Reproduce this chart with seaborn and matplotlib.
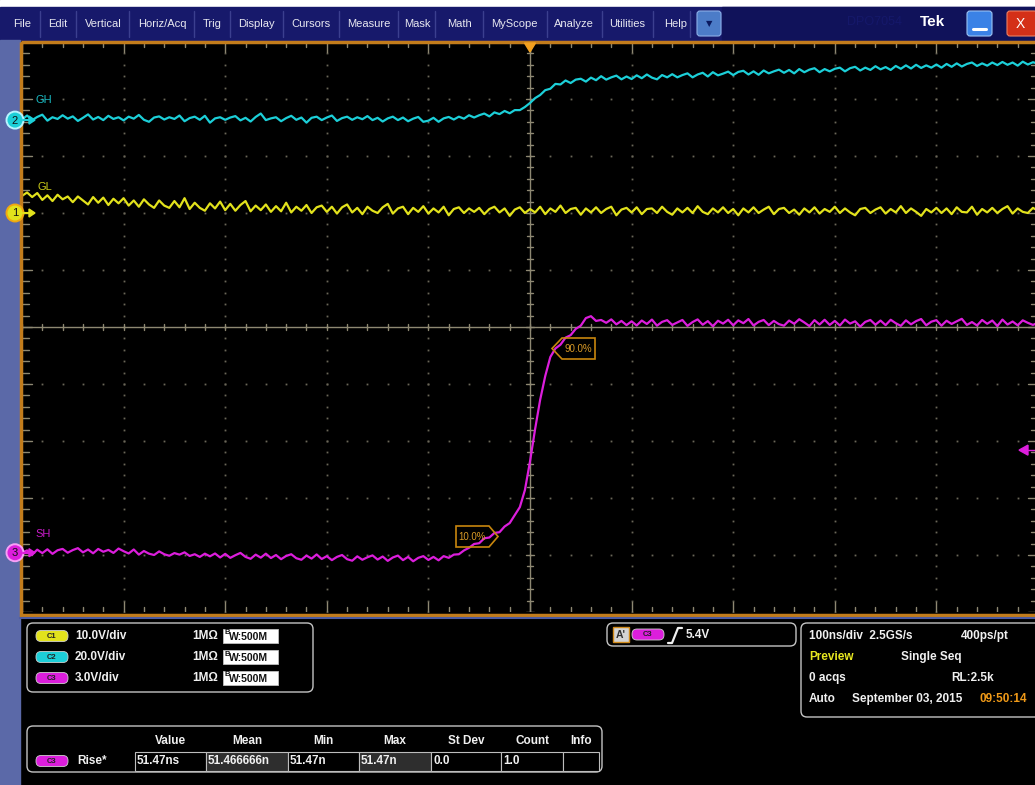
import numpy as np
import pandas as pd
import matplotlib
matplotlib.use("Agg")
import matplotlib.pyplot as plt
from matplotlib.patches import Rectangle, FancyBboxPatch, Circle, Polygon
import seaborn as sns

W, H = 1035, 785

# ---------------- data ----------------
time_ns = np.arange(-500, 501, 5)  # scope sample clock shown at 5 ns steps

gl_c1_volts = [
    3.0, 3.6, 2.8, 3.5, 2.3, 3.1, 2.1, 3.2, 2.4, 2.9,
    1.9, 2.9, 2.2, 1.5, 2.8, 1.8, 2.7, 1.4, 2.5, 1.7,
    2.6, 1.3, 2.2, 1.1, 2.4, 1.5, 0.9, 2.2, 1.3, 0.9,
    2.1, 1.0, 2.6, 0.7, 1.8, 0.9, 0.4, 1.7, 0.8, 2.0,
    0.5, 1.6, 0.4, 1.4, 2.1, 0.3, 1.3, 0.5, 1.5, 0.2,
    1.2, 0.3, 1.8, 0.1, 1.1, 0.4, 1.4, 0.0, 1.0, 1.3,
    0.2, 1.1, -0.1, 1.0, 1.5, 0.1, 0.9, -0.2, 1.1, 0.4,
    0.0, 1.0, 1.6, -0.1, 0.8, 1.1, -0.2, 0.9, 0.2, 1.2,
    -0.1, 0.8, 0.1, 1.1, -0.4, 0.7, 1.0, 0.0, 0.8, 0.2,
    0.9, -0.2, 0.7, 1.1, 0.1, 0.8, -0.5, 0.6, 1.0, 0.0,
    0.7, 0.1, 1.1, -0.2, 0.8, 0.2, 1.3, 0.0, 0.7, 0.9,
    -0.3, 0.8, 0.1, 1.0, 0.0, 0.7, 1.1, -0.4, 0.6, 0.9,
    0.1, 1.0, -0.2, 0.7, 0.8, 0.0, 1.1, 0.2, -0.3, 0.8,
    0.1, 0.9, 0.0, 1.2, 0.2, -0.2, 0.8, 0.1, 1.0, 0.0,
    0.7, -0.4, 0.8, 0.1, 1.0, 0.0, 0.6, 1.1, -0.2, 0.7,
    0.9, 0.0, 0.6, -0.3, 0.8, 0.1, 1.0, -0.1, 0.7, 0.2,
    1.1, 0.0, 0.8, 0.1, -0.4, 0.7, 0.9, 0.0, 0.6, 1.0,
    -0.1, 0.7, 0.1, 1.2, 0.0, 0.8, 0.2, -0.5, 0.7, 0.1,
    0.9, 0.0, 0.8, -0.2, 1.0, 0.2, 0.1, 1.1, -0.3, 0.7,
    0.1, 0.9, 0.0, 0.7, 1.2, -0.1, 0.8, 0.2, 0.0, 0.9,
    0.4,
]

gh_c2_volts = [
    0.2, 1.6, 0.0, 1.1, 1.9, -0.2, 1.0, 0.4, 1.7, 0.5,
    1.3, -0.3, 0.8, 2.0, 0.2, 1.1, 0.0, 1.5, 0.4, 1.0,
    -0.1, 1.2, 0.5, 1.8, 0.1, -0.6, 0.9, 1.3, 0.2, 1.0,
    0.4, 1.6, -0.4, 0.7, 1.2, 0.1, 1.5, -0.9, 0.6, 1.0,
    0.1, 0.9, 1.4, -0.1, 0.8, -0.5, 1.1, 2.3, 0.0, 0.6,
    1.0, -0.4, 0.7, 1.5, 0.1, 0.9, -0.9, 0.8, 1.2, 0.0,
    0.9, 1.6, -0.3, 0.7, 1.2, 0.1, 1.0, 0.3, 1.4, 0.0,
    0.8, -0.5, 0.6, 1.2, 0.0, 0.9, -0.4, 0.5, 1.1, -0.6,
    -0.2, 0.8, -0.6, 0.6, 1.1, 0.2, 1.2, 0.5, 1.7, 0.9,
    1.7, 2.3, 1.3, 2.7, 2.1, 3.2, 2.4, 3.5, 3.5, 4.6,
    6.0, 7.7, 8.8, 10.5, 11.0, 12.7, 12.5, 13.9, 13.0, 14.2,
    14.5, 13.5, 14.9, 14.0, 15.4, 14.2, 15.0, 15.6, 14.3, 15.3,
    14.4, 15.7, 14.7, 16.0, 14.9, 14.3, 15.8, 15.0, 16.1, 15.0,
    15.8, 16.4, 15.0, 16.0, 16.6, 15.3, 16.8, 15.7, 16.3, 17.0,
    15.8, 16.9, 17.3, 16.0, 17.1, 15.9, 17.4, 16.4, 17.1, 17.7,
    16.6, 17.6, 16.4, 17.9, 16.8, 17.7, 18.2, 16.8, 17.9, 17.1,
    18.0, 18.4, 17.1, 18.2, 18.7, 17.4, 18.4, 17.6, 18.9, 17.8,
    18.6, 17.6, 19.0, 18.0, 19.2, 18.1, 19.4, 18.3, 19.2, 18.4,
    19.5, 18.4, 19.7, 18.7, 19.9, 18.8, 19.7, 20.2, 19.0, 19.9,
    19.1, 20.2, 19.3, 20.4, 19.4, 20.2, 19.1, 20.5, 19.5, 20.3,
    19.8,
]

sh_c3_volts = [
    0.00, 0.12, -0.10, 0.16, -0.02, 0.18, -0.06, 0.13, 0.20, 0.00,
    0.14, 0.24, 0.02, 0.17, -0.03, 0.20, 0.05, 0.15, -0.01, 0.22,
    0.08, -0.04, 0.17, -0.10, 0.09, -0.05, -0.12, 0.07, -0.08, -0.16,
    -0.02, -0.10, 0.02, -0.17, -0.08, -0.22, -0.05, -0.19, -0.04, -0.25,
    -0.06, -0.27, -0.13, -0.01, -0.22, -0.32, -0.10, -0.26, -0.05, -0.28,
    -0.12, -0.34, -0.17, -0.08, -0.29, -0.37, -0.15, -0.31, -0.09, -0.33,
    -0.18, -0.39, -0.22, -0.12, -0.34, -0.42, -0.19, -0.37, -0.24, -0.14,
    -0.36, -0.20, -0.43, -0.25, -0.15, -0.39, -0.22, -0.45, -0.27, -0.18,
    -0.38, -0.22, -0.40, -0.18, -0.27, -0.10, -0.08, 0.12, 0.26, 0.46,
    0.50, 0.76, 0.80, 1.04, 1.08, 1.38, 1.56, 1.98, 2.40, 3.30,
    4.80, 6.50, 8.05, 9.30, 10.30, 10.75, 10.95, 11.32, 11.45, 11.78,
    11.95, 12.35, 12.45, 12.20, 12.25, 12.10, 12.28, 12.02, 12.20, 11.98,
    12.18, 11.96, 12.22, 12.04, 12.27, 11.95, 12.15, 12.24, 11.99, 12.12,
    12.25, 11.94, 12.14, 12.28, 12.00, 12.19, 11.92, 12.21, 12.06, 12.26,
    11.97, 12.23, 12.08, 12.30, 11.96, 12.15, 12.25, 11.98, 12.20, 12.03,
    11.95, 12.22, 12.05, 12.29, 12.12, 11.93, 12.24, 12.01, 12.26, 11.99,
    12.20, 11.96, 12.27, 12.06, 12.18, 11.90, 12.15, 12.25, 12.00, 12.22,
    11.98, 12.26, 12.08, 11.94, 12.23, 12.02, 12.19, 12.30, 11.97, 12.16,
    12.24, 11.95, 12.21, 12.04, 12.18, 12.31, 11.99, 12.14, 11.96, 12.25,
    12.05, 12.22, 11.93, 12.27, 12.01, 12.17, 11.97, 12.23, 12.10, 11.99,
    12.10,
]

channel_ids = ["C1", "C2", "C3"]
channel_labels = ["GL", "GH", "SH"]
channel_scale_v_per_div = [10.0, 20.0, 3.0]
channel_position_div = [2.0, 3.63, -3.96]
channel_scale_text = ["10.0V/div", "20.0V/div", "3.0V/div"]
channel_colors = ["#e2e21c", "#1ccfd8", "#dc1edc"]

menu_items = ["File", "Edit", "Vertical", "Horiz/Acq", "Trig", "Display", "Cursors",
              "Measure", "Mask", "Math", "MyScope", "Analyze", "Utilities", "Help"]

meas_headers = ["Value", "Mean", "Min", "Max", "St Dev", "Count", "Info"]
meas_values = ["51.47ns", "51.466666n", "51.47n", "51.47n", "0.0", "1.0", ""]

trigger_level_v = 5.4

# ---------------- figure ----------------
sns.set_style("dark")
plt.rcParams["font.family"] = ["Liberation Sans", "DejaVu Sans"]

fig = plt.figure(figsize=(W / 100, H / 100), dpi=100, facecolor="black")

# scope graticule axes (10 x 10 divisions)
ax = fig.add_axes([22 / W, 1 - 612 / H, 1016 / W, 570 / H])
ax.set_xlim(-500, 500)
ax.set_ylim(-5, 5)
ax.set_facecolor("black")
ax.axis("off")

pxx = 1000 / 1016
pxy = 10 / 570
grid_col = "#6a6658"
line_col = "#8e8872"

# dotted grid
for gx in range(-400, 401, 100):
    if gx == 0:
        continue
    ys = np.arange(-5, 5.01, 0.2)
    ax.plot(np.full_like(ys, gx), ys, ls="none", marker="s", ms=1.3, mew=0, color=grid_col, zorder=1)
for gy in range(-4, 5):
    if gy == 0:
        continue
    xs = np.arange(-500, 501, 20)
    ax.plot(xs, np.full_like(xs, gy, dtype=float), ls="none", marker="s", ms=1.3, mew=0, color=grid_col, zorder=1)

# center lines
ax.axhline(0, color=line_col, lw=1.0, zorder=1)
ax.axvline(0, color=line_col, lw=1.0, zorder=1)


def segs(pairs):
    xs, ys = [], []
    for (x0, y0, x1, y1) in pairs:
        xs += [x0, x1, np.nan]
        ys += [y0, y1, np.nan]
    return xs, ys


tick_pairs = []
for k, y in enumerate(np.arange(-5, 5.01, 0.2)):
    major = k % 5 == 0
    h = (4 if major else 3) * pxx
    tick_pairs.append((-h, y, h, y))
    L = (10 if major else 7) * pxx
    tick_pairs.append((-500, y, -500 + L, y))
    tick_pairs.append((500 - L, y, 500, y))
for k, x in enumerate(np.arange(-500, 501, 20)):
    major = k % 5 == 0
    h = 3 * pxy
    tick_pairs.append((x, -h, x, h))
    L = (10 if major else 5) * pxy
    tick_pairs.append((x, 5, x, 5 - L))
    tick_pairs.append((x, -5, x, -5 + L))
tx, ty = segs(tick_pairs)
ax.plot(tx, ty, color=line_col, lw=1.0, zorder=1)

# waveforms via seaborn
series = {"C1": gl_c1_volts, "C2": gh_c2_volts, "C3": sh_c3_volts}
for cid, scale, pos, col in zip(channel_ids, channel_scale_v_per_div, channel_position_div, channel_colors):
    v = np.asarray(series[cid], dtype=float)
    df = pd.DataFrame({"t": time_ns, "div": v / scale + pos})
    sns.lineplot(data=df, x="t", y="div", ax=ax, color=col, linewidth=1.6,
                 estimator=None, legend=False, zorder=3)
ax.set_xlim(-500, 500)
ax.set_ylim(-5, 5)
ax.axis("off")

# ---------------- UI overlay (pixel coordinates) ----------------
ui = fig.add_axes([0, 0, 1, 1])
ui.set_xlim(0, W)
ui.set_ylim(H, 0)
ui.axis("off")
ui.patch.set_alpha(0)
ui.set_zorder(5)

# menu bar
ui.add_patch(Rectangle((0, 0), W, 7, color="white", zorder=1))
ui.add_patch(Rectangle((0, 7), W, 33, color="#17196b", zorder=1))
ui.add_patch(Rectangle((722, 7), W - 722, 33, color="#10125a", zorder=1))
menu_x = [22, 58, 103, 162, 212, 256, 311, 369, 417, 459, 514, 574, 627, 676]
seps = [40, 76, 129, 194, 230, 283, 339, 398, 435, 483, 547, 602, 653, 690]
for s in seps:
    ui.plot([s, s], [11, 37], color="#3b3f8f", lw=1, zorder=2)
for x, s in zip(menu_x, menu_items):
    ui.text(x, 24, s, color="#e8e8f0", fontsize=8, ha="center", va="center", zorder=3)
ui.add_patch(FancyBboxPatch((697, 11), 24, 25, boxstyle="round,pad=0,rounding_size=3",
                            facecolor="#4c7cc8", edgecolor="#8db0e8", lw=0.8, zorder=2))
ui.text(709, 24, "▼", color="#0b1a60", fontsize=6, ha="center", va="center", zorder=3,
        family=["DejaVu Sans"])
ui.text(875, 22, "DPO7054", color="#15186a", fontsize=9, ha="center", va="center", zorder=2)
ui.text(932, 22, "Tek", color="white", fontsize=11, fontweight="bold", ha="center", va="center", zorder=3)
ui.add_patch(FancyBboxPatch((967, 11), 25, 25, boxstyle="round,pad=0,rounding_size=3",
                            facecolor="#3b82e6", edgecolor="#9cc4f4", lw=0.8, zorder=2))
ui.plot([973, 986], [29, 29], color="white", lw=2.2, zorder=3)
ui.add_patch(FancyBboxPatch((1007, 11), 30, 25, boxstyle="round,pad=0,rounding_size=3",
                            facecolor="#d43018", edgecolor="#f08060", lw=0.8, zorder=2))
ui.text(1020, 24, "X", color="white", fontsize=10, ha="center", va="center", zorder=3)

# left strip and frame
ui.add_patch(Rectangle((0, 40), 20, H - 40, color="#5b69a8", zorder=1))
ui.add_patch(Rectangle((21, 41.5), 1017, 573, facecolor="none", edgecolor="#c27c1c", lw=2.5, zorder=2))
ui.plot([20, W], [618, 618], color="#4d5ca2", lw=1.5, zorder=2)

# trigger position (top) and trigger level (right)
ui.add_patch(Polygon([(524.5, 43), (535.5, 43), (530, 52)], closed=True, color="#f2a020", zorder=4))
trig_div = trigger_level_v / channel_scale_v_per_div[2] + channel_position_div[2]
trig_y = 327 - trig_div * 57
ui.add_patch(Polygon([(1019, trig_y), (1028, trig_y - 5), (1028, trig_y + 5)], closed=True,
                     color=channel_colors[2], zorder=4))
ui.plot([1028, W], [trig_y, trig_y], color=channel_colors[2], lw=1, zorder=4)

# channel ground markers and labels
marker_num = ["1", "2", "3"]
marker_rim = ["#f0a810", "#b8f4ff", "#f6a0f6"]
label_offsets = [(38, -26), (35, -20), (35, -19)]
for i in range(3):
    gy = 327 - channel_position_div[i] * 57
    ui.add_patch(Circle((15, gy), 8.5, facecolor=channel_colors[i], edgecolor=marker_rim[i], lw=1.4, zorder=5))
    ui.text(15, gy + 0.5, marker_num[i], color="#101010", fontsize=8, ha="center", va="center", zorder=6)
    ui.plot([23, 31], [gy, gy], color=channel_colors[i], lw=1.5, zorder=5)
    ui.add_patch(Polygon([(29, gy - 4), (35, gy), (29, gy + 4)], closed=True, color=channel_colors[i], zorder=5))
    lx, ly = label_offsets[i]
    ui.text(lx, gy + ly, channel_labels[i], color=channel_colors[i], fontsize=8,
            ha="left", va="center", zorder=5, alpha=0.9)

# 10% / 90% readout flags
flag_col = "#c8860e"
ui.add_patch(Polygon([(456, 526), (489, 526), (498, 536.5), (489, 547), (456, 547)], closed=True,
                     facecolor="none", edgecolor=flag_col, lw=1.2, zorder=4))
ui.text(472, 537, "10.0%", color="#d99a26", fontsize=7, ha="center", va="center", zorder=4)
ui.add_patch(Polygon([(552, 348.5), (562, 338), (595, 338), (595, 359), (562, 359)], closed=True,
                     facecolor="none", edgecolor=flag_col, lw=1.2, zorder=4))
ui.text(578, 349, "90.0%", color="#d99a26", fontsize=7, ha="center", va="center", zorder=4)


def badge(x, y, w, h, col, txt):
    ui.add_patch(FancyBboxPatch((x, y), w, h, boxstyle="round,pad=0,rounding_size=5",
                                facecolor=col, edgecolor="#d0d0d0", lw=0.6, zorder=4))
    ui.text(x + w / 2, y + h / 2 + 0.5, txt, color="#202020", fontsize=5.5, fontweight="bold",
            ha="center", va="center", zorder=5)


def panel(x, y, w, h):
    ui.add_patch(FancyBboxPatch((x, y), w, h, boxstyle="round,pad=0,rounding_size=6",
                                facecolor="none", edgecolor="#c4c4c4", lw=1.0, zorder=3))


txt_kw = dict(color="#f0f0f0", fontsize=8.5, fontweight="bold", va="center", zorder=5)

# vertical settings panel
panel(27, 623, 286, 69)
row_y = [636, 657, 678]
for i in range(3):
    y = row_y[i]
    badge(36, y - 5.5, 32, 11, channel_colors[i], channel_ids[i])
    ui.text(75, y, channel_scale_text[i], ha="left", **txt_kw)
    ui.text(192, y, "1MΩ", ha="left", **txt_kw)
    ui.add_patch(Rectangle((223, y - 7), 55, 14, facecolor="white", edgecolor="#c0c0c0", lw=0.6, zorder=4))
    ui.text(224.5, y - 3, "B", color="#111111", fontsize=5.5, fontweight="bold", ha="left", va="center", zorder=5)
    ui.text(229, y + 1, "W:500M", color="#111111", fontsize=7.5, fontweight="bold", ha="left", va="center", zorder=5)

# trigger panel
panel(607, 623, 189, 23)
ui.add_patch(Rectangle((613, 627), 16, 15, facecolor="#d4d4d4", edgecolor="#d08a1a", lw=1.0, zorder=4))
ui.text(621, 634.5, "A'", color="#303030", fontsize=7.5, fontweight="bold", ha="center", va="center", zorder=5)
badge(632, 629, 32, 11, channel_colors[2], "C3")
ui.plot([668, 672, 678, 682], [643, 643, 628, 628], color="#f0f0f0", lw=1.6, zorder=5)
ui.text(686, 634.5, f"{trigger_level_v:.1f}V", ha="left", **txt_kw)

# horizontal / acquisition panel
panel(801, 623, 240, 94)
ui.text(809, 636, "100ns/div  2.5GS/s", ha="left", **txt_kw)
ui.text(961, 636, "400ps/pt", ha="left", **txt_kw)
ui.text(809, 657, "Preview", ha="left", **{**txt_kw, "color": "#e8e820"})
ui.text(901, 657, "Single Seq", ha="left", **txt_kw)
ui.text(809, 678, "0 acqs", ha="left", **txt_kw)
ui.text(951, 678, "RL:2.5k", ha="left", **txt_kw)
ui.text(809, 699, "Auto", ha="left", **txt_kw)
ui.text(852, 699, "September 03, 2015", ha="left", **txt_kw)
ui.text(979, 699, "09:50:14", ha="left", **{**txt_kw, "color": "#f09a18"})

# measurement table
panel(27, 726, 575, 46)
cell_x = [135, 206, 288, 359, 431, 501, 563, 599]
for j in range(7):
    x0, x1 = cell_x[j], cell_x[j + 1]
    shade = "#2e2e2e" if j in (1, 3) else "black"
    ui.add_patch(Rectangle((x0, 752), x1 - x0, 19, facecolor=shade, edgecolor="#bdbdbd", lw=0.8, zorder=4))
    ui.text((x0 + x1) / 2, 741, meas_headers[j], ha="center", **txt_kw)
    ui.text(x0 + 2, 761.5, meas_values[j], ha="left", **txt_kw)
badge(36, 755.5, 32, 11, channel_colors[2], "C3")
ui.text(77, 761, "Rise*", ha="left", **txt_kw)

fig.savefig("out.png", dpi=100, facecolor="black")
